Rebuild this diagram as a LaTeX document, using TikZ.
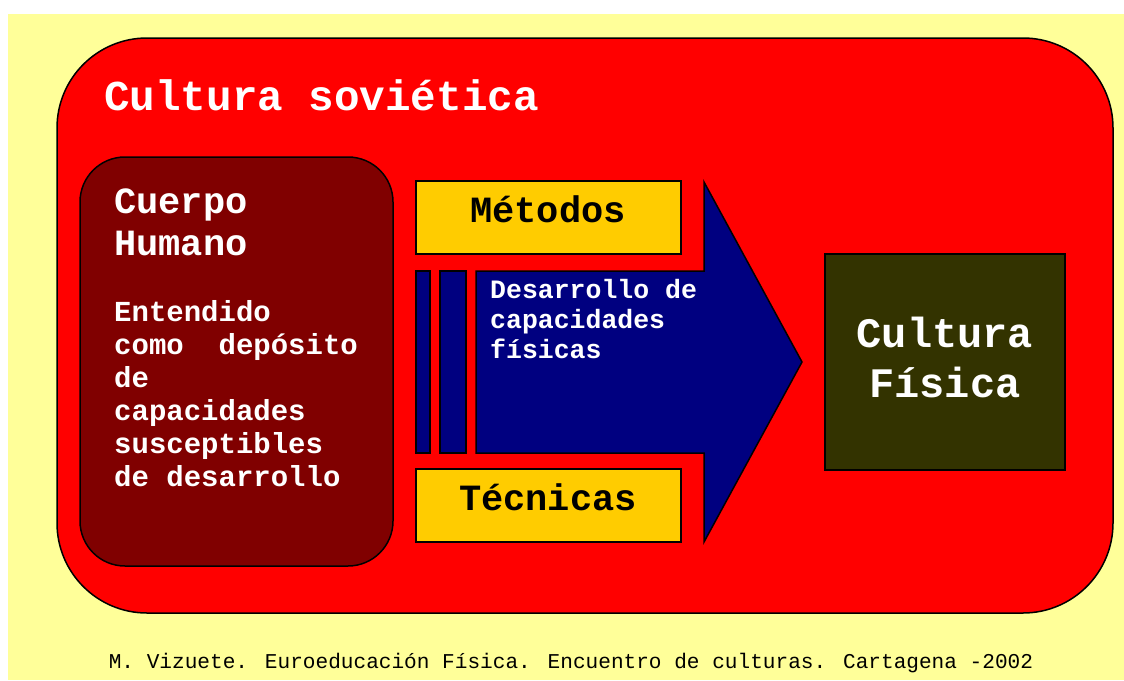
\documentclass[tikz,border=0pt]{standalone}
\usepackage{fontspec}
\setmainfont{Liberation Mono}
\definecolor{bgyel}{HTML}{FFFF99}
\definecolor{bigred}{HTML}{FF0000}
\definecolor{maroon}{HTML}{800000}
\definecolor{gold}{HTML}{FFCC00}
\definecolor{navyb}{HTML}{000080}
\definecolor{olive}{HTML}{333300}
\begin{document}
\begin{tikzpicture}[x=1pt,y=-1pt,
  edge/.style={draw=black,line width=1.5pt},
  wtxt/.style={text=white,font=\bfseries\fontsize{#1}{#1}\selectfont,inner sep=0pt,anchor=base west},
  btxt/.style={text=black,font=\bfseries\fontsize{37}{37}\selectfont,inner sep=0pt,anchor=base}]
\useasboundingbox (0,0) rectangle (1124,680);
\fill[white] (0,0) rectangle (1124,680);
\fill[bgyel] (8,14) rectangle (1124,680);
% outer red
\draw[edge,fill=bigred,rounded corners=90pt] (57,38) rectangle (1113,613);
\node[wtxt=42.6] (title) at (104,110) {Cultura soviética};
% left box
\draw[edge,fill=maroon,rounded corners=45pt] (80,157) rectangle (393,566);
\node[wtxt=37] (c1) at (114,213) {Cuerpo};
\node[wtxt=37] (c2) at (114,255) {Humano};
\node[wtxt=29] (e1) at (114,321) {Entendido};
\node[wtxt=29] (e2) at (114,354) {como\ \ depósito};
\node[wtxt=29] (e3) at (114,387) {de};
\node[wtxt=29] (e4) at (114,420) {capacidades};
\node[wtxt=29] (e5) at (114,453) {susceptibles};
\node[wtxt=29] (e6) at (114,486) {de desarrollo};
% arrow
\draw[edge,fill=navyb,line join=miter] (476,271) -- (704,271) -- (704,182) -- (802,362) -- (704,542) -- (704,453) -- (476,453) -- cycle;
\draw[edge,fill=navyb] (416,271) rectangle (430,453);
\draw[edge,fill=navyb] (440,271) rectangle (466,453);
\node[wtxt=26.5] (d1) at (490,298) {Desarrollo de};
\node[wtxt=26.5] (d2) at (490,328) {capacidades};
\node[wtxt=26.5] (d3) at (490,358) {físicas};
% gold boxes
\draw[edge,fill=gold] (416,181) rectangle (681,254);
\node[btxt] (met) at (548,222) {Métodos};
\draw[edge,fill=gold] (416,469) rectangle (681,542);
\node[btxt] (tec) at (548,510) {Técnicas};
% right box
\draw[edge,fill=olive] (825,254) rectangle (1065,470);
\node[wtxt=42,anchor=base] (cf1) at (945,347) {Cultura};
\node[wtxt=42,anchor=base] (cf2) at (945,397) {Física};
% footer
\node[inner sep=0pt,anchor=base,font=\fontsize{21.1}{22}\selectfont] (foot) at (571,668) {M. Vizuete. Euroeducación Física. Encuentro de culturas. Cartagena -2002};
\end{tikzpicture}
\end{document}
